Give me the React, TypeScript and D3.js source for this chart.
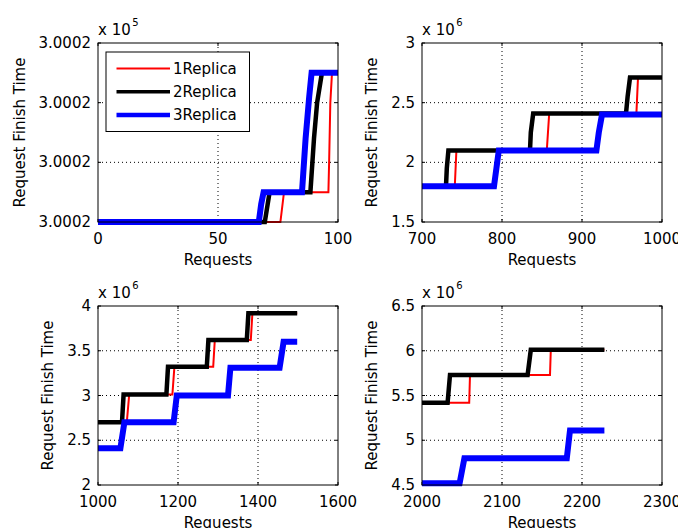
import React from "react";
import * as d3 from "d3";

// ---------- data ----------
const SERIES_NAMES = ["1Replica", "2Replica", "3Replica"];
const SERIES_COLORS = ["#ff0000", "#000000", "#0000ff"];

// Panel 1 (values in raw units, x10^5 axis)
const p1Red: [number, number][] = [[0, 300016], [76, 300016], [77.5, 300016.5], [96, 300016.5], [96.3, 300017], [96.8, 300018], [97.5, 300018.5], [100, 300018.5]];
const p1Black: [number, number][] = [[0, 300016], [69.5, 300016], [71.5, 300016.5], [88.5, 300016.5], [90, 300017.4], [91.3, 300018], [93.3, 300018.5], [100, 300018.5]];
const p1Blue: [number, number][] = [[0, 300016], [67, 300016], [68, 300016.3], [69, 300016.5], [85, 300016.5], [86.5, 300017.4], [88, 300018.1], [89, 300018.5], [100, 300018.5]];
const p1YTicks = [300016, 300017, 300018, 300019];
const p1YTickLabels = ["3.0002", "3.0002", "3.0002", "3.0002"];
const p1XTicks = [0, 50, 100];

// Panel 2 (x10^6)
const p2Red: [number, number][] = [[700, 1.8], [741, 1.8], [743, 2.1], [856, 2.1], [859, 2.41], [968, 2.41], [970, 2.71], [1000, 2.71]];
const p2Black: [number, number][] = [[700, 1.8], [730, 1.8], [731, 1.95], [733, 2.1], [835, 2.1], [836, 2.25], [839, 2.41], [955, 2.41], [957, 2.55], [960, 2.71], [1000, 2.71]];
const p2Blue: [number, number][] = [[700, 1.8], [790, 1.8], [793, 1.95], [796, 2.1], [918, 2.1], [921, 2.25], [925, 2.4], [1000, 2.4]];
const p2YTicks = [1.5, 2, 2.5, 3];
const p2YTickLabels = ["1.5", "2", "2.5", "3"];
const p2XTicks = [700, 800, 900, 1000];

// Panel 3 (x10^6)
const p3Red: [number, number][] = [[1000, 2.7], [1072, 2.7], [1078, 3.01], [1186, 3.01], [1191, 3.32], [1288, 3.32], [1292, 3.62], [1382, 3.62], [1386, 3.92], [1498, 3.92]];
const p3Black: [number, number][] = [[1000, 2.7], [1060, 2.7], [1064, 3.01], [1171, 3.01], [1175, 3.32], [1272, 3.32], [1276, 3.62], [1372, 3.62], [1376, 3.92], [1498, 3.92]];
const p3Blue: [number, number][] = [[1000, 2.41], [1056, 2.41], [1066, 2.7], [1189, 2.7], [1197, 3.0], [1325, 3.0], [1331, 3.31], [1454, 3.31], [1464, 3.6], [1498, 3.6]];
const p3YTicks = [2, 2.5, 3, 3.5, 4];
const p3YTickLabels = ["2", "2.5", "3", "3.5", "4"];
const p3XTicks = [1000, 1200, 1400, 1600];

// Panel 4 (x10^6)
const p4Red: [number, number][] = [[2000, 5.42], [2059, 5.42], [2060, 5.73], [2160, 5.73], [2161, 6.01], [2228, 6.01]];
const p4Black: [number, number][] = [[2000, 5.42], [2032, 5.42], [2035, 5.73], [2132, 5.73], [2136, 6.01], [2228, 6.01]];
const p4Blue: [number, number][] = [[2000, 4.52], [2047, 4.52], [2053, 4.8], [2181, 4.8], [2185, 5.11], [2228, 5.11]];
const p4YTicks = [4.5, 5, 5.5, 6, 6.5];
const p4YTickLabels = ["4.5", "5", "5.5", "6", "6.5"];
const p4XTicks = [2000, 2100, 2200, 2300];

const X_LABEL = "Requests";
const Y_LABEL = "Request Finish Time";

// ---------- layout ----------
const FONT = "'DejaVu Sans', sans-serif";
const FS = 15;
const AW = 240;
const AH = 179;
const LINE_WIDTHS = [2, 4.5, 6];

type PanelDef = {
  left: number;
  top: number;
  xDomain: [number, number];
  yDomain: [number, number];
  xTicks: number[];
  yTicks: number[];
  yTickLabels: string[];
  exponent: string;
  series: [number, number][][];
  legend?: boolean;
};

const panels: PanelDef[] = [
  { left: 98, top: 43, xDomain: [0, 100], yDomain: [300016, 300019], xTicks: p1XTicks, yTicks: p1YTicks, yTickLabels: p1YTickLabels, exponent: "5", series: [p1Red, p1Black, p1Blue], legend: true },
  { left: 422, top: 43, xDomain: [700, 1000], yDomain: [1.5, 3], xTicks: p2XTicks, yTicks: p2YTicks, yTickLabels: p2YTickLabels, exponent: "6", series: [p2Red, p2Black, p2Blue] },
  { left: 98, top: 306, xDomain: [1000, 1600], yDomain: [2, 4], xTicks: p3XTicks, yTicks: p3YTicks, yTickLabels: p3YTickLabels, exponent: "6", series: [p3Red, p3Black, p3Blue] },
  { left: 422, top: 306, xDomain: [2000, 2300], yDomain: [4.5, 6.5], xTicks: p4XTicks, yTicks: p4YTicks, yTickLabels: p4YTickLabels, exponent: "6", series: [p4Red, p4Black, p4Blue] },
];

function textWidth(s: string, fs: number) {
  let w = 0;
  for (const c of s) w += c === "." ? 0.318 : 0.636;
  return w * fs;
}

function Panel({ p }: { p: PanelDef }) {
  const x = d3.scaleLinear().domain(p.xDomain).range([0, AW]);
  const y = d3.scaleLinear().domain(p.yDomain).range([AH, 0]);
  const line = d3.line<[number, number]>().x((d) => x(d[0])).y((d) => y(d[1]));
  const maxW = Math.max(...p.yTickLabels.map((s) => textWidth(s, FS)));
  const yLabelX = -(maxW + 21);
  const tickLen = 3;
  return (
    <g transform={`translate(${p.left},${p.top})`} fontFamily={FONT} fontSize={FS}>
      <rect x={0} y={0} width={AW} height={AH} fill="#fff" />
      {/* grid */}
      {p.xTicks.slice(1, -1).map((t) => (
        <line key={"gx" + t} x1={x(t)} x2={x(t)} y1={0} y2={AH} stroke="#000" strokeWidth={1} strokeDasharray="1,3" />
      ))}
      {p.yTicks.slice(1, -1).map((t) => (
        <line key={"gy" + t} x1={0} x2={AW} y1={y(t)} y2={y(t)} stroke="#000" strokeWidth={1} strokeDasharray="1,3" />
      ))}
      {/* ticks */}
      {p.xTicks.map((t) => (
        <g key={"tx" + t}>
          <line x1={x(t)} x2={x(t)} y1={AH} y2={AH - tickLen} stroke="#000" />
          <line x1={x(t)} x2={x(t)} y1={0} y2={tickLen} stroke="#000" />
          <text x={x(t)} y={AH + 21.5} textAnchor="middle">{d3.format("d")(t)}</text>
        </g>
      ))}
      {p.yTicks.map((t, i) => (
        <g key={"ty" + t}>
          <line x1={0} x2={tickLen} y1={y(t)} y2={y(t)} stroke="#000" />
          <line x1={AW} x2={AW - tickLen} y1={y(t)} y2={y(t)} stroke="#000" />
          <text x={-7} y={y(t)} textAnchor="end" dominantBaseline="central">{p.yTickLabels[i]}</text>
        </g>
      ))}
      {/* series */}
      {p.series.map((s, i) => (
        <path key={"s" + i} d={line(s) || ""} fill="none" stroke={SERIES_COLORS[i]} strokeWidth={LINE_WIDTHS[i]} strokeLinejoin="miter" />
      ))}
      <rect x={0} y={0} width={AW} height={AH} fill="none" stroke="#000" strokeWidth={1} />
      {/* exponent */}
      <text x={0} y={-8}>
        x 10
      </text>
      <text x={textWidth("x 10", FS) - 4} y={-17} fontSize={10}>{p.exponent}</text>
      {/* labels */}
      <text x={AW / 2} y={AH + 43} textAnchor="middle">{X_LABEL}</text>
      <text transform={`translate(${yLabelX},${AH / 2}) rotate(-90)`} textAnchor="middle">{Y_LABEL}</text>
      {p.legend && (
        <g transform="translate(8,9)">
          <rect x={0} y={0} width={143.5} height={79.5} fill="#fff" stroke="#000" strokeWidth={1} />
          {SERIES_NAMES.map((n, i) => (
            <g key={n} transform={`translate(0,${16.5 + i * 23.3})`}>
              <line x1={10.5} x2={64} y1={0} y2={0} stroke={SERIES_COLORS[i]} strokeWidth={[2, 3.5, 4.5][i]} />
              <text x={67} y={0} dominantBaseline="central">{n}</text>
            </g>
          ))}
        </g>
      )}
    </g>
  );
}

export default function App() {
  return (
    <svg width={678} height={528} style={{ position: "absolute", left: 0, top: 0, background: "#fff" }}>
      <rect width={678} height={528} fill="#fff" />
      {panels.map((p, i) => (
        <Panel key={i} p={p} />
      ))}
    </svg>
  );
}
